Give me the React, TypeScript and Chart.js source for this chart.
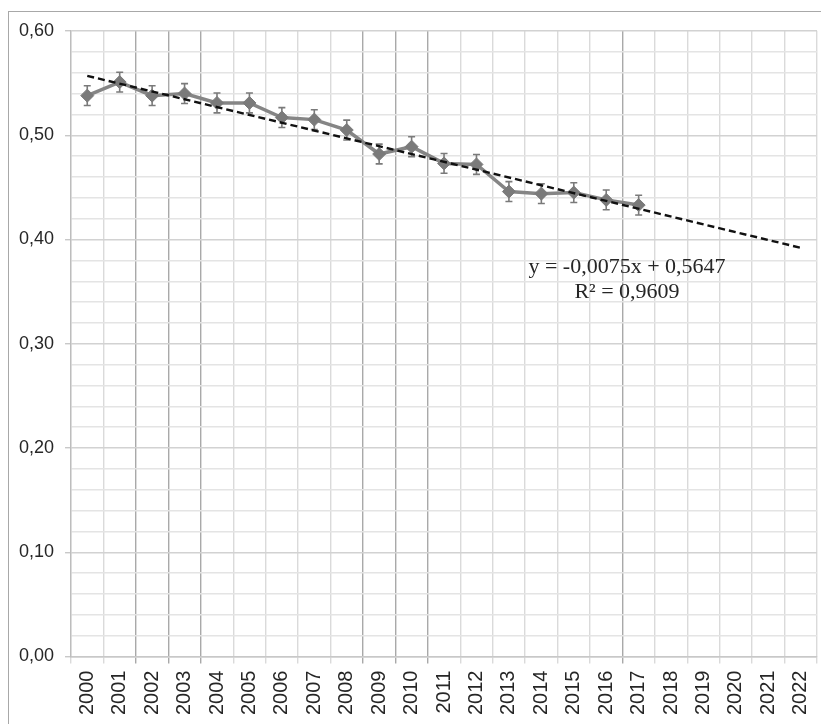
import { useEffect, useRef } from 'react';
import { Chart, registerables } from 'chart.js';

Chart.register(...registerables);

// ---- data ----
const years = [
  '2000', '2001', '2002', '2003', '2004', '2005', '2006', '2007', '2008', '2009', '2010',
  '2011', '2012', '2013', '2014', '2015', '2016', '2017', '2018', '2019', '2020', '2021', '2022',
];
const seriesValues = [
  0.538, 0.551, 0.538, 0.540, 0.531, 0.531, 0.517, 0.515, 0.505, 0.482, 0.489,
  0.473, 0.472, 0.446, 0.444, 0.445, 0.438, 0.433,
];
const errorValues = [
  0.0095, 0.0095, 0.0095, 0.0095, 0.0095, 0.0095, 0.0095, 0.0095, 0.0095, 0.0095, 0.0095,
  0.0095, 0.0095, 0.0095, 0.0095, 0.0095, 0.0095, 0.0095,
];
// linear trend endpoints (first and last category)
const trendEndpoints = [0.557, 0.392];
const equationLines = ['y = -0,0075x + 0,5647', 'R² = 0,9609'];
const yMin = 0;
const yMax = 0.6;
const yMajorStep = 0.1;
const yMinorStep = 0.02;

// ---- styles ----
const darkVerticalLines = [2, 3, 4, 9, 10, 11, 17];
const sansFont = 'Liberation Sans, Arial, sans-serif';
const serifFont = 'Liberation Serif, Times New Roman, serif';

const trendData = years.map((_, i) =>
  i === 0 ? trendEndpoints[0] : i === years.length - 1 ? trendEndpoints[1] : null
);

const isMajor = (v: number) => Math.abs(v / yMajorStep - Math.round(v / yMajorStep)) < 1e-6;

const errorBarPlugin = {
  id: 'errorBars',
  beforeDatasetsDraw(chart: any) {
    const meta = chart.getDatasetMeta(1);
    const yScale = chart.scales.y;
    const ctx = chart.ctx;
    ctx.save();
    ctx.strokeStyle = '#7a7a7a';
    ctx.lineWidth = 1.6;
    meta.data.forEach((pt: any, i: number) => {
      const v = seriesValues[i];
      const e = errorValues[i];
      if (v == null || e == null) return;
      const x = pt.x;
      const yt = yScale.getPixelForValue(v + e);
      const yb = yScale.getPixelForValue(v - e);
      ctx.beginPath();
      ctx.moveTo(x, yt);
      ctx.lineTo(x, yb);
      ctx.moveTo(x - 3.5, yt);
      ctx.lineTo(x + 3.5, yt);
      ctx.moveTo(x - 3.5, yb);
      ctx.lineTo(x + 3.5, yb);
      ctx.stroke();
    });
    ctx.restore();
  },
  afterDraw(chart: any) {
    const { ctx, chartArea } = chart;
    ctx.save();
    ctx.fillStyle = '#262626';
    ctx.font = `22px ${serifFont}`;
    ctx.textAlign = 'center';
    ctx.textBaseline = 'middle';
    const cx = chartArea.left + 556;
    ctx.fillText(equationLines[0], cx, chartArea.top + 236);
    ctx.fillText(equationLines[1], cx, chartArea.top + 261);
    ctx.restore();
  },
};

export default function App() {
  const canvasRef = useRef<HTMLCanvasElement | null>(null);

  useEffect(() => {
    if (!canvasRef.current) return;
    const chart = new Chart(canvasRef.current, {
      type: 'line',
      data: {
        labels: years,
        datasets: [
          {
            label: 'trend',
            data: trendData,
            borderColor: '#111111',
            borderWidth: 2.4,
            borderDash: [7, 4],
            pointRadius: 0,
            spanGaps: true,
            fill: false,
            order: 0,
          },
          {
            label: 'series',
            data: seriesValues,
            borderColor: '#858585',
            borderWidth: 3.5,
            pointStyle: 'rectRot',
            pointRadius: 6.5,
            pointBackgroundColor: '#7a7a7a',
            pointBorderColor: '#7a7a7a',
            pointBorderWidth: 1,
            fill: false,
            order: 1,
          },
        ],
      },
      options: {
        responsive: false,
        animation: false,
        devicePixelRatio: 1,
        layout: { padding: { left: 8, top: 31, right: 5, bottom: 2 } },
        plugins: {
          legend: { display: false },
          tooltip: { enabled: false },
        },
        scales: {
          x: {
            offset: true,
            grid: {
              offset: true,
              tickLength: 7,
              lineWidth: 1.4,
              color: (c: any) => (darkVerticalLines.includes(c.index) ? '#a9a9a9' : '#dadada'),
            },
            border: { color: '#c8c8c8', width: 1.4 },
            ticks: {
              autoSkip: false,
              minRotation: 90,
              maxRotation: 90,
              padding: 7,
              color: '#262626',
              font: { family: sansFont, size: 20 },
            },
          },
          y: {
            min: yMin,
            max: yMax,
            grid: {
              tickLength: 6,
              lineWidth: 1.4,
              color: (c: any) => (isMajor(c.tick?.value ?? 0) ? '#d2d2d2' : '#e4e4e4'),
              tickColor: (c: any) => (isMajor(c.tick?.value ?? 0) ? '#c8c8c8' : 'rgba(0,0,0,0)'),
            },
            border: { color: '#bdbdbd', width: 1.4 },
            ticks: {
              stepSize: yMinorStep,
              autoSkip: false,
              padding: 11,
              color: '#262626',
              font: { family: sansFont, size: 18 },
              callback: (v: any) => (isMajor(Number(v)) ? Number(v).toFixed(2).replace('.', ',') : ''),
            },
          },
        },
      },
      plugins: [errorBarPlugin],
    });
    return () => chart.destroy();
  }, []);

  return (
    <div style={{ position: 'fixed', inset: 0, background: '#ffffff', overflow: 'hidden' }}>
      <div
        style={{
          position: 'absolute',
          left: 8,
          top: 11,
          width: 860,
          height: 760,
          border: '1px solid #a8a8a8',
          boxSizing: 'border-box',
        }}
      />
      <canvas
        ref={canvasRef}
        width={832}
        height={724}
        style={{ position: 'absolute', left: 0, top: 0, width: 832, height: 724 }}
      />
    </div>
  );
}
